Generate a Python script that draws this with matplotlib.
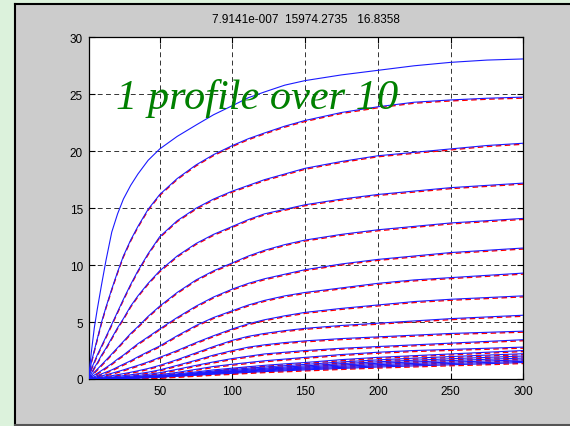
import matplotlib
matplotlib.use("Agg")
import matplotlib.pyplot as plt
import matplotlib.transforms as mtransforms
from matplotlib.patches import Rectangle
from matplotlib.lines import Line2D

# ---- data ----
t = [1, 3, 5, 7, 10, 13, 17, 21, 25, 30, 35, 42, 50, 62, 75, 87, 100,
     111, 122, 136, 150, 175, 200, 225, 250, 275, 300]

fit_only = [0, 2.4, 4.5, 6.1, 8.3, 10.4, 12.9, 14.5, 15.8, 17.0, 18.0, 19.2, 20.2, 21.3,
            22.3, 23.2, 24.0, 24.7, 25.2, 25.8, 26.2, 26.7, 27.1, 27.5, 27.8, 28.0, 28.1]

c1 = [0, 1.5, 2.5, 3.5, 5.0, 6.3, 7.9, 9.4, 10.8, 12.2, 13.4, 14.9, 16.2, 17.6, 18.8,
      19.7, 20.5, 21.1, 21.6, 22.2, 22.7, 23.4, 23.9, 24.3, 24.5, 24.65, 24.75]
c2 = [0, 0.9, 1.5, 2.1, 2.9, 3.7, 4.8, 5.9, 7.0, 8.3, 9.5, 11.0, 12.5, 13.9, 15.0,
      15.8, 16.5, 17.0, 17.5, 18.0, 18.5, 19.1, 19.6, 19.9, 20.2, 20.5, 20.7]
c3 = [0, 0.5, 1.0, 1.4, 2.1, 2.7, 3.6, 4.5, 5.3, 6.4, 7.3, 8.4, 9.5, 10.8, 11.9,
      12.7, 13.4, 14.0, 14.5, 14.9, 15.3, 15.8, 16.2, 16.5, 16.8, 17.0, 17.2]
c4 = [0, 0.3, 0.6, 0.85, 1.25, 1.65, 2.2, 2.75, 3.3, 4.0, 4.6, 5.5, 6.4, 7.6, 8.7,
      9.5, 10.2, 10.8, 11.3, 11.8, 12.2, 12.7, 13.1, 13.4, 13.7, 13.9, 14.1]
c5 = [0, 0.2, 0.35, 0.5, 0.75, 1.0, 1.35, 1.75, 2.1, 2.6, 3.1, 3.7, 4.4, 5.4, 6.4,
      7.2, 7.9, 8.4, 8.8, 9.2, 9.6, 10.1, 10.5, 10.8, 11.1, 11.3, 11.5]
c6 = [0, 0.1, 0.2, 0.3, 0.45, 0.6, 0.8, 1.05, 1.3, 1.6, 1.95, 2.4, 2.9, 3.8, 4.7,
      5.4, 6.0, 6.5, 6.9, 7.3, 7.6, 8.0, 8.4, 8.7, 8.9, 9.1, 9.3]
c7 = [0, 0.06, 0.12, 0.18, 0.27, 0.37, 0.5, 0.65, 0.8, 1.0, 1.2, 1.5, 1.9, 2.5, 3.2,
      3.8, 4.4, 4.85, 5.2, 5.55, 5.85, 6.2, 6.5, 6.8, 7.0, 7.15, 7.3]
c8 = [0, 0.04, 0.07, 0.1, 0.15, 0.21, 0.29, 0.38, 0.47, 0.59, 0.72, 0.92, 1.2, 1.7, 2.3,
      2.85, 3.4, 3.75, 4.0, 4.25, 4.45, 4.7, 4.9, 5.1, 5.3, 5.45, 5.6]
c9 = [0, 0.02, 0.04, 0.06, 0.09, 0.12, 0.17, 0.23, 0.29, 0.37, 0.46, 0.6, 0.8, 1.2, 1.65,
      2.1, 2.5, 2.8, 3.0, 3.2, 3.35, 3.55, 3.7, 3.85, 4.0, 4.1, 4.2]
c10 = [0, 0.01, 0.02, 0.04, 0.06, 0.08, 0.11, 0.15, 0.19, 0.25, 0.31, 0.41, 0.55, 0.85, 1.2,
       1.5, 1.8, 2.0, 2.2, 2.35, 2.5, 2.7, 2.85, 3.0, 3.15, 3.3, 3.45]
c11 = [0, 0.01, 0.02, 0.03, 0.04, 0.06, 0.08, 0.11, 0.14, 0.18, 0.22, 0.29, 0.38, 0.58, 0.85,
       1.1, 1.3, 1.45, 1.6, 1.75, 1.9, 2.15, 2.35, 2.5, 2.6, 2.7, 2.8]
b0 = [0, 0.01, 0.015, 0.02, 0.03, 0.045, 0.06, 0.08, 0.1, 0.13, 0.17, 0.22, 0.3, 0.45, 0.62,
      0.8, 0.95, 1.08, 1.2, 1.33, 1.45, 1.7, 1.9, 2.05, 2.2, 2.35, 2.5]
b1 = [0, 0.01, 0.013, 0.018, 0.026, 0.04, 0.05, 0.07, 0.09, 0.11, 0.15, 0.19, 0.26, 0.39, 0.54,
      0.69, 0.83, 0.95, 1.05, 1.17, 1.28, 1.5, 1.68, 1.83, 1.97, 2.1, 2.22]
b2 = [0, 0.008, 0.012, 0.016, 0.024, 0.035, 0.045, 0.06, 0.08, 0.1, 0.13, 0.17, 0.23, 0.35, 0.48,
      0.62, 0.74, 0.85, 0.94, 1.05, 1.15, 1.35, 1.51, 1.65, 1.78, 1.9, 2.02]
b3 = [0, 0.007, 0.011, 0.014, 0.022, 0.032, 0.04, 0.055, 0.07, 0.09, 0.12, 0.16, 0.21, 0.32, 0.44,
      0.57, 0.67, 0.77, 0.86, 0.96, 1.05, 1.23, 1.38, 1.5, 1.62, 1.73, 1.84]
b4 = [0, 0.006, 0.01, 0.013, 0.02, 0.03, 0.038, 0.05, 0.065, 0.085, 0.11, 0.145, 0.19, 0.29, 0.4,
      0.52, 0.62, 0.71, 0.79, 0.88, 0.96, 1.12, 1.26, 1.37, 1.48, 1.58, 1.68]
b5 = [0, 0.006, 0.009, 0.012, 0.018, 0.027, 0.035, 0.045, 0.06, 0.08, 0.1, 0.13, 0.18, 0.27, 0.37,
      0.47, 0.56, 0.64, 0.72, 0.8, 0.88, 1.02, 1.15, 1.26, 1.36, 1.45, 1.55]
b6 = [0, 0.005, 0.008, 0.011, 0.016, 0.024, 0.032, 0.04, 0.055, 0.07, 0.09, 0.12, 0.16, 0.24, 0.33,
      0.42, 0.5, 0.58, 0.65, 0.72, 0.8, 0.93, 1.05, 1.15, 1.25, 1.34, 1.45]

profiles = [c1, c2, c3, c4, c5, c6, c7, c8, c9, c10, c11, b0, b1, b2, b3, b4, b5, b6]

title_text = "7.9141e-007  15974.2735   16.8358"
note_text = "1 profile over 10"
xticks = [50, 100, 150, 200, 250, 300]
yticks = [0, 5, 10, 15, 20, 25, 30]

# ---- figure ----
W, H = 570, 427
fig = plt.figure(figsize=(W / 100, H / 100), dpi=100, facecolor="#dcf2dc")

# grey panel
fig.patches.append(Rectangle((14 / W, 1 / H), (W - 14) / W, (426 - 5) / H,
                             transform=fig.transFigure, facecolor="#cccccc",
                             edgecolor="none", zorder=-10))
fig.lines.append(Line2D([14.5 / W, 14.5 / W], [1 / H, (H - 5) / H],
                        transform=fig.transFigure, color="black", lw=1.5, zorder=-5))
fig.lines.append(Line2D([14.5 / W, 1], [(H - 5) / H, (H - 5) / H],
                        transform=fig.transFigure, color="black", lw=1.5, zorder=-5))
fig.lines.append(Line2D([14.5 / W, 1], [1.2 / H, 1.2 / H],
                        transform=fig.transFigure, color="#555555", lw=1.5, zorder=-5))

ax = fig.add_axes([88.5 / W, (H - 380) / H, (523.3 - 88.5) / W, (380 - 38.3) / H])
ax.set_facecolor("white")

below = mtransforms.offset_copy(ax.transData, fig=fig, x=0, y=-1, units="dots")
for p in profiles:
    ax.plot(t, p, color="#ff0000", lw=1.0, ls=(0, (4, 2.5)), transform=below, zorder=2)
for p in profiles:
    ax.plot(t, p, color="#1a1aff", lw=0.8, zorder=3)
ax.plot(t, fit_only, color="#1a1aff", lw=0.8, zorder=3)

ax.set_xlim(1, 300)
ax.set_ylim(0, 30)
ax.set_xticks(xticks)
ax.set_yticks(yticks)
ax.tick_params(direction="in", length=4, width=0.8, labelsize=8.5,
               top=True, right=True, pad=4)
for lab in ax.get_xticklabels() + ax.get_yticklabels():
    lab.set_family("Liberation Sans")
ax.grid(True, color="#333333", lw=0.7, ls=(0, (5, 3.5)))
for s in ax.spines.values():
    s.set_linewidth(0.9)
    s.set_color("black")

ax.set_title(title_text, fontsize=8.5, family="Liberation Sans", pad=11)
ax.text(20.1, 23.8, note_text, color="#008000", fontsize=30.5,
        family="Liberation Serif", style="italic", ha="left", va="baseline", zorder=5)

fig.savefig("out.png", dpi=100, facecolor=fig.get_facecolor())
